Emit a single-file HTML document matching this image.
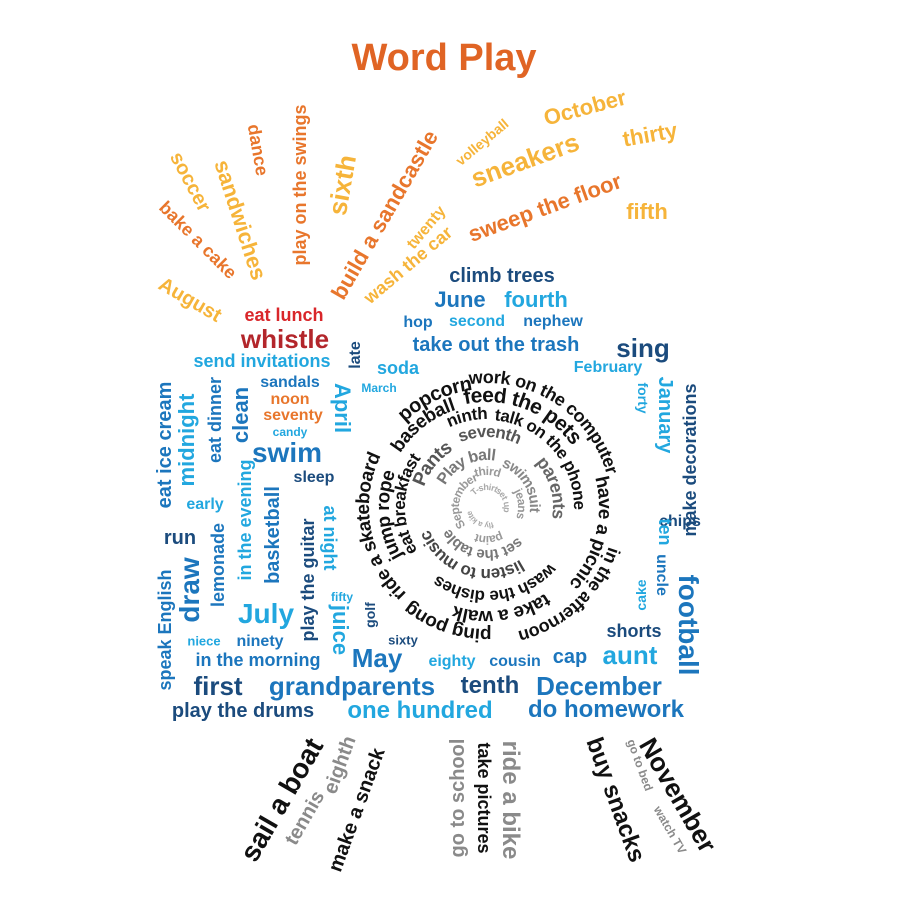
<!DOCTYPE html>
<html><head><meta charset="utf-8">
<style>
html,body{margin:0;padding:0;background:#fff}
#c{position:relative;width:900px;height:900px;overflow:hidden;font-family:"Liberation Sans",sans-serif;font-weight:bold}
.w{position:absolute;white-space:nowrap;line-height:1;transform-origin:center}
#sp{position:absolute;left:0;top:0}
#sp text{font-family:"Liberation Sans",sans-serif;font-weight:bold}
</style></head><body>
<div id="c">
<svg id="sp" width="900" height="900"></svg>
</div>
<script>
const O='#e8762c',Y='#f6b43a',R='#d9262a',DR='#b3262b',DB='#1b4b7d',B='#1c76bd',LB='#22a7df',K='#111',G='#8a8a8a';
// word, cx, cy, rotation, size, color
const words=[
['Word Play',444,58,0,38,'#e06424'],
['soccer',190,182,62,20,Y],['bake a cake',198,240,45,18,O],['August',190,300,30,20,Y],
['sandwiches',240,220,72,22,Y],['dance',258,150,80,18,O],['play on the swings',300,185,-90,18,O],
['sixth',342,185,-80,26,Y],['build a sandcastle',385,215,-60,22,O],['twenty',427,228,-50,16,Y],
['wash the car',408,265,-40,18,Y],['volleyball',482,142,-40,14,Y],['sneakers',525,160,-20,26,Y],
['October',585,108,-15,22,Y],['thirty',650,135,-10,22,Y],['sweep the floor',545,208,-20,22,O],['fifth',647,212,0,22,Y],
['climb trees',502,276,0,20,DB],['June',460,300,0,22,B],['fourth',536,300,0,22,LB],
['hop',418,323,0,16,B],['second',477,322,0,16,LB],['nephew',553,322,0,16,B],
['eat lunch',284,315,0,18,R],['whistle',285,339,0,26,DR],['take out the trash',496,345,0,20,B],
['sing',643,348,0,26,DB],['send invitations',262,361,0,18,LB],['late',356,355,-90,16,DB],
['soda',398,368,0,18,LB],['February',608,368,0,16,LB],['March',379,388,0,12,LB],
['eat ice cream',165,445,-90,20,B],['midnight',187,440,-90,22,LB],['eat dinner',215,420,-90,18,B],
['clean',241,415,-90,22,B],['sandals',290,383,0,16,B],['noon',290,400,0,16,O],['seventy',293,416,0,16,O],
['candy',290,432,0,12,LB],['April',342,408,90,22,LB],['swim',287,453,0,28,B],['early',205,505,0,16,LB],
['sleep',314,478,0,16,DB],['in the evening',245,520,-90,18,LB],['basketball',273,535,-90,20,B],
['at night',330,538,90,18,LB],['run',180,538,0,20,DB],['draw',190,590,-90,28,B],['lemonade',218,565,-90,18,B],
['play the guitar',308,580,-90,18,DB],['fifty',342,597,0,12,LB],['speak English',165,630,-90,18,B],
['July',266,614,0,28,LB],['juice',340,630,90,22,LB],['golf',370,615,-90,14,DB],['niece',204,641,0,13,LB],
['ninety',260,642,0,16,B],['sixty',403,640,0,13,DB],['in the morning',258,660,0,18,B],
['May',377,658,0,26,B],['eighty',452,662,0,16,LB],['cousin',515,662,0,16,B],
['first',218,686,0,26,DB],['grandparents',352,686,0,26,B],['tenth',490,686,0,24,DB],['December',599,686,0,26,B],
['play the drums',243,711,0,20,DB],['one hundred',420,711,0,24,LB],['do homework',606,710,0,24,B],
['cap',570,657,0,20,B],['aunt',630,655,0,26,LB],['shorts',634,631,0,18,DB],
['January',665,415,90,20,LB],['forty',643,398,90,14,LB],['chips',680,522,0,16,DB],['make decorations',690,460,-90,18,DB],
['ten',665,532,90,18,LB],['uncle',661,575,90,16,B],['cake',641,595,-90,14,LB],['football',688,625,90,28,B],
['sail a boat',282,800,-60,28,K],['tennis',305,818,-60,20,G],['eighth',340,765,-70,20,G],['make a snack',357,810,-70,20,K],
['go to school',458,798,-90,20,G],['take pictures',484,798,90,18,K],['ride a bike',510,800,90,24,G],
['buy snacks',615,800,70,24,K],['go to bed',640,765,70,12,G],['November',678,795,60,26,K],['watch TV',670,830,60,12,G]
];
// spiral words: text, start angle (deg, clockwise from right), radius, size, colour
const spiral=[
['ride a skateboard',133,124,19,K],['popcorn',226,124,20,K],['work on the computer',262,130,18,K],
['in the afternoon',18,134,18,K],['ping pong',88,128,19,K],
['take a walk',56,110,19,K],['jump rope',150,104,19,K],['baseball',212,108,19,K],
['feed the pets',258,112,21,K],['have a picnic',345,118,19,K],
['wash the dishes',42,90,17,K],['eat breakfast',148,88,17,K],['ninth',245,94,17,K],['talk on the phone',275,93,17,K],
['listen to music',58,68,17,'#444'],['Pants',198,72,19,'#555'],['seventh',248,76,17,'#555'],['parents',318,72,18,'#666'],
['set the table',45,48,15,'#777'],['Play ball',208,52,16,'#777'],['swimsuit',290,48,15,'#888'],
['paint',62,33,12,'#999'],['September',140,32,12,'#999'],['third',250,36,12,'#999'],['jeans',330,35,12,'#999'],
['T-shirt',222,20,9,'#aaa'],['set up',300,20,9,'#aaa'],['fly a kite',70,19,8,'#aaa']
];
const cx=487, cy=507;
const c=document.getElementById('c');
words.forEach(w=>{
  const d=document.createElement('div');
  d.className='w';
  d.textContent=w[0];
  
  
  d.style.left=w[1]+'px';d.style.top=w[2]+'px';
  d.style.fontSize=w[4]+'px';d.style.color=w[5];
  d.style.transform='translate(-50%,-50%) rotate('+w[3]+'deg)';
  c.appendChild(d);
});
const NS='http://www.w3.org/2000/svg';
const svg=document.getElementById('sp');
const defs=document.createElementNS(NS,'defs');svg.appendChild(defs);
spiral.forEach((s,i)=>{
  const a0=s[1]*Math.PI/180, a1=(s[1]+359)*Math.PI/180, r=s[2];
  const p=document.createElementNS(NS,'path');
  p.setAttribute('id','sp'+i);
  p.setAttribute('d','M'+(cx+r*Math.cos(a0))+' '+(cy+r*Math.sin(a0))+' A'+r+' '+r+' 0 1 1 '+(cx+r*Math.cos(a1))+' '+(cy+r*Math.sin(a1)));
  p.setAttribute('fill','none');
  defs.appendChild(p);
  const t=document.createElementNS(NS,'text');
  
  
  t.setAttribute('font-size',s[3]);t.setAttribute('fill',s[4]);
  t.setAttribute('dominant-baseline','central');
  const tp=document.createElementNS(NS,'textPath');
  tp.setAttribute('href','#sp'+i);
  tp.textContent=s[0];
  t.appendChild(tp);svg.appendChild(t);
});
</script>
</body></html>
